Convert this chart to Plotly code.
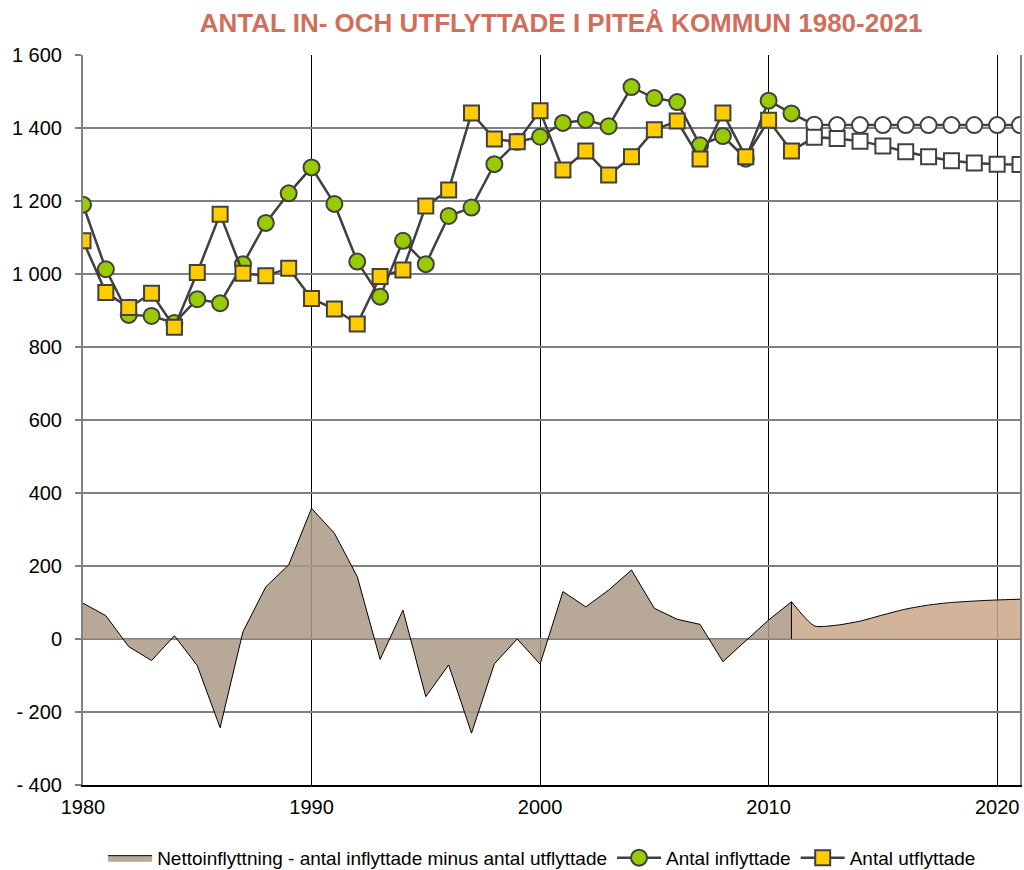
import plotly.graph_objects as go

# Years 1980-2021 (2012 onwards are forecast values)
years = list(range(1980, 2022))
last_actual = 2011

# Antal inflyttade (in-migration)
inflyttade = [1190, 1013, 888, 885, 866, 931, 920, 1027, 1140, 1221,
              1292, 1192, 1034, 938, 1091, 1027, 1159, 1182, 1301, 1362,
              1376, 1414, 1422, 1405, 1512, 1482, 1471, 1353, 1378, 1316,
              1475, 1440, 1409, 1408, 1408, 1408, 1408, 1408, 1408, 1408,
              1408, 1408]

# Antal utflyttade (out-migration)
utflyttade = [1091, 949, 908, 947, 854, 1004, 1164, 1002, 995, 1016,
              933, 904, 863, 993, 1011, 1186, 1230, 1441, 1370, 1362,
              1447, 1285, 1337, 1271, 1321, 1395, 1419, 1315, 1441, 1321,
              1421, 1337, 1375, 1371, 1364, 1351, 1335, 1321, 1310, 1304,
              1301, 1300]

# Nettoinflyttning
netto = [98, 64, -21, -59, 9, -73, -243, 20, 143, 203,
         358, 290, 171, -56, 79, -158, -71, -258, -68, 0,
         -69, 130, 88, 134, 189, 84, 54, 40, -62, -5,
         52, 102, 36, 38, 49, 66, 82, 93, 100, 104,
         107, 109]

y_ticks = list(range(-400, 1601, 200))
x_ticks = [1980, 1990, 2000, 2010, 2020]


def fmt(v):
    # swedish style: space as thousands separator, "- 200" for negatives
    s = f"{abs(v):,}".replace(",", " ")
    return "- " + s if v < 0 else s


cut = years.index(last_actual) + 1
outline = "#404040"

fig = go.Figure()

# actual net migration
fig.add_trace(go.Scatter(
    x=years[:cut], y=netto[:cut], mode="lines", fill="tozeroy",
    fillcolor="rgba(171,153,134,0.85)", line=dict(color="black", width=1),
    name="Nettoinflyttning - antal inflyttade minus antal utflyttade"))

# forecast net migration
fig.add_trace(go.Scatter(
    x=years[cut - 1:], y=netto[cut - 1:], mode="lines", fill="tozeroy",
    fillcolor="rgba(202,167,137,0.85)",
    line=dict(color="black", width=1, shape="spline", smoothing=0.6),
    showlegend=False, hoverinfo="skip"))

# edge between actual and forecast
fig.add_trace(go.Scatter(
    x=[years[cut - 1]] * 2, y=[0, netto[cut - 1]], mode="lines",
    line=dict(color="black", width=1), showlegend=False, hoverinfo="skip"))

in_colors = ["#99cc00" if y <= last_actual else "white" for y in years]
out_colors = ["#ffcc00" if y <= last_actual else "white" for y in years]

fig.add_trace(go.Scatter(
    x=years, y=inflyttade, mode="lines+markers", name="Antal inflyttade",
    line=dict(color=outline, width=2.5),
    marker=dict(symbol="circle", size=16, color=in_colors,
                line=dict(color=outline, width=2))))

fig.add_trace(go.Scatter(
    x=years, y=utflyttade, mode="lines+markers", name="Antal utflyttade",
    line=dict(color=outline, width=2.5),
    marker=dict(symbol="square", size=15, color=out_colors,
                line=dict(color=outline, width=2))))

fig.update_layout(
    width=1024, height=870,
    margin=dict(l=83, r=4, t=55, b=85),
    paper_bgcolor="white", plot_bgcolor="white",
    font=dict(family="Liberation Sans, Arial, sans-serif", size=20, color="black"),
    title=dict(text="<b>ANTAL IN- OCH UTFLYTTADE I PITEÅ KOMMUN 1980-2021</b>",
               x=0.548, xref="container", xanchor="center",
               y=0.974, yref="container", yanchor="middle",
               font=dict(family="Liberation Sans, Arial, sans-serif",
                         size=26, color="#d06f5c")),
    legend=dict(orientation="h", x=0.49, xanchor="center",
                yref="container", y=0.014, yanchor="middle",
                font=dict(family="Liberation Sans, Arial, sans-serif", size=19),
                itemwidth=44, tracegroupgap=0),
    showlegend=True,
)

fig.update_xaxes(
    range=[1980, 2021], tickvals=x_ticks, ticktext=[str(t) for t in x_ticks],
    showgrid=True, gridcolor="black", gridwidth=1,
    showline=True, linecolor="black", linewidth=1.5,
    ticks="", ticklabelstandoff=3, zeroline=False, automargin=False)

fig.update_yaxes(
    range=[-400, 1600], tickvals=y_ticks, ticktext=[fmt(v) for v in y_ticks],
    showgrid=True, gridcolor="#808080", gridwidth=1.5,
    showline=True, linecolor="#808080", linewidth=2, mirror=True,
    ticks="outside", ticklen=6, tickcolor="#808080", tickwidth=1.5,
    ticklabelstandoff=9, zeroline=False, automargin=False)

# the page's default body margin would shift the chart; remove it
fig.write_html("out.html", config={"displayModeBar": False},
               post_script="document.body.style.margin='0px';")
